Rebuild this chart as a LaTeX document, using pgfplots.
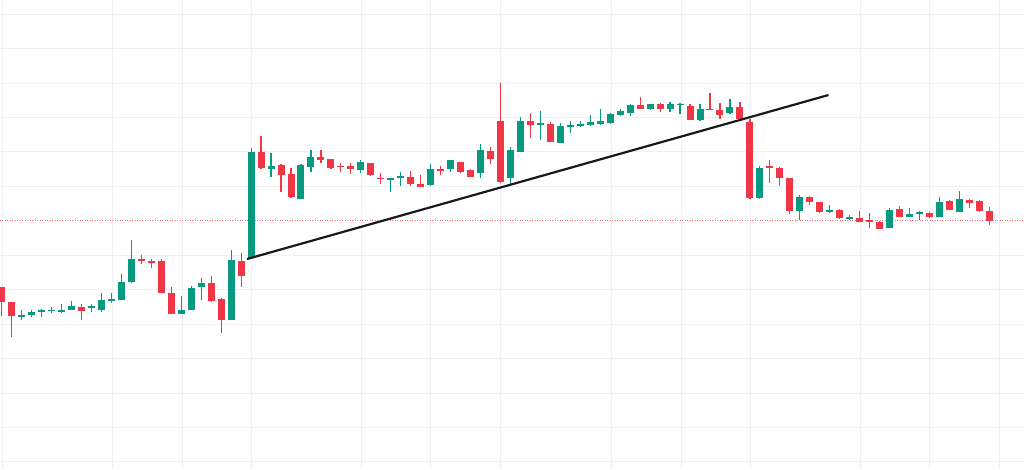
\documentclass[border=0pt]{standalone}
\usepackage{pgfplots}
\usepackage{pgfplotstable}
\pgfplotsset{compat=1.18}
\definecolor{tvgreen}{HTML}{089981}
\definecolor{tvred}{HTML}{F23645}
\definecolor{gridc}{HTML}{EEF0F3}

% columns: i = candle index, top/bot = body edges, hi/lo = wick ends (pixel rows, y grows downwards)
\pgfplotstableread{
i top bot hi lo
2 315 317.3 310 320
3 311.7 315.3 310 317.3
4 310 312 309 316.7
5 309.7 311 307.3 312.7
6 310.3 312.3 304 313
7 306.3 310.3 300.7 310.3
9 305.7 308 304 312
10 299.7 309.7 292.7 312
11 299 301 293.3 303
12 282.3 299.7 273.7 300.3
13 259 282 240.3 282.7
18 310 314.3 295.7 314.3
19 287.7 310.3 286 310.3
20 283.3 287 278.3 300
23 259.7 320.3 250 320.3
25 151.7 258.3 148.3 258.3
27 166 169 152.7 177.3
30 165 199 164 199
31 156.7 166.7 150 171.7
36 161.7 170 160 172.7
39 178.3 180 177.7 192.3
40 176.3 178 172.3 185.7
43 169.3 185 164.3 186
45 160 169.3 160 172.3
48 150 172.5 144.3 178
51 150 178.3 146.7 185
52 120.7 152.3 117.3 152.3
54 123.3 125 111 140
56 126 142.7 122.7 143.3
57 124.5 126.5 121 133
58 123.7 125.7 120.7 126.7
59 121.7 125 115 126
60 121 124.3 109.3 125
61 114 123.3 112.7 124.3
62 110.7 115 109 116
63 105 113.3 104 116
65 104.3 109 104 110
67 104 109 101.7 111.7
68 104 105.3 103.3 114.3
70 109 120 104 120.7
73 106.7 113.3 99.3 114
76 167.7 198.3 166 199.3
80 196.7 210.7 195 220
83 210 211.7 205 213.3
85 216.7 219 215 220
89 210 228.3 208.3 228.3
91 214 216.7 208.3 217.3
92 211.7 214.3 211 220
94 202.3 216.7 196.7 216.7
96 199.3 212.3 191 212.3
}\greentable

\pgfplotstableread{
i top bot hi lo
0 287.3 301.7 287.3 316
1 302 316 302 337.3
8 306.7 310.7 304 320
14 259 261 255.3 264.3
15 260.7 262.7 258.7 268.3
16 260.7 293.3 258.7 293.3
17 293 314.3 286.7 314.3
21 283.3 301 275.7 301.7
22 299 319.7 297.7 333.3
24 260.7 276 253.3 287.3
26 151.7 168.3 136 169.3
28 165 174.7 164 191.7
29 174.3 197.3 168.3 198.3
32 156.7 160 150 163.3
33 159.3 168.3 159.3 169.3
34 165.5 167 162.7 171.7
35 166 169.3 162.7 174.3
37 162.7 175 162.7 175.7
38 177.5 179 173.3 184
41 177.3 184.3 171 186
42 184.3 186.7 175 186.7
44 169.3 170.7 165.7 175
46 161.7 171.7 161.7 172.7
47 170 177.3 169 177.3
49 151 159.3 146.7 164.3
50 120.7 181.7 83.3 182.7
53 120.7 125 113.3 138.3
55 124.3 141.7 121.7 142.3
64 105 109 97.3 109
66 104 109 103.3 112.3
69 105.7 120 104 120
71 109 110.3 93.3 110.3
72 110 115 103.3 119.3
74 107.3 119.3 101.7 120
75 122.3 198.3 119.3 199.3
77 166 168.3 160 182.7
78 168.3 178.3 166.7 186
79 177.7 210.7 177.7 214
81 196.7 202.3 196 205
82 201.7 212.3 201.7 213
84 210 217.7 209.3 219.3
86 217.7 221.7 211 221.7
87 220.3 221.7 213.3 227.7
88 222.3 229 221 229
90 209.3 217.3 206 217.3
93 213.3 217.3 212.3 218.3
95 201 210 200 210
97 200 203.3 199 208.3
98 200.7 211 200 211.7
99 211 220.7 206.7 225
}\redtable

\begin{document}
\begin{tikzpicture}
\begin{axis}[
  width=10.24cm, height=4.69cm, scale only axis,
  xmin=0, xmax=1024, ymin=0, ymax=469, y dir=reverse,
  axis line style={draw=none}, tick style={draw=none},
  xtick={3,112,182,251,361,430,500,611,681,750,860,929,999},
  ytick={14,48.5,83,117.4,151.8,186.3,255.2,289.6,324.1,358.5,393,427.4,461.9},
  xticklabels={}, yticklabels={},
  grid=major, grid style={draw=gridc, line width=0.1mm},
  clip=true,
]
\coordinate (A) at (rel axis cs:0,0);
\coordinate (B) at (rel axis cs:1,1);
% reference price line
\addplot[tvred!70, line width=0.1mm, dash pattern=on 0.1mm off 0.15mm, forget plot] coordinates {(0,220.6) (1024,220.6)};
% wicks
\addplot[draw=none, mark=none, forget plot, error bars/.cd, y dir=plus, y explicit, error mark=none,
  error bar style={draw=tvgreen, solid, line width=0.12mm}]
  table[x expr=1.7+9.976*\thisrow{i}, y=hi, y error plus expr=\thisrow{lo}-\thisrow{hi}] {\greentable};
\addplot[draw=none, mark=none, forget plot, error bars/.cd, y dir=plus, y explicit, error mark=none,
  error bar style={draw=tvred, solid, line width=0.12mm}]
  table[x expr=1.7+9.976*\thisrow{i}, y=hi, y error plus expr=\thisrow{lo}-\thisrow{hi}] {\redtable};
% bodies
\addplot[draw=none, mark=none, forget plot, error bars/.cd, y dir=plus, y explicit, error mark=none,
  error bar style={draw=tvgreen, solid, line width=0.7mm}]
  table[x expr=1.7+9.976*\thisrow{i}, y=top, y error plus expr=\thisrow{bot}-\thisrow{top}] {\greentable};
\addplot[draw=none, mark=none, forget plot, error bars/.cd, y dir=plus, y explicit, error mark=none,
  error bar style={draw=tvred, solid, line width=0.7mm}]
  table[x expr=1.7+9.976*\thisrow{i}, y=top, y error plus expr=\thisrow{bot}-\thisrow{top}] {\redtable};
% trend line
\addplot[color=black!90, line width=0.22mm, forget plot] coordinates {(247,259) (828.5,95)};
\end{axis}
\pgfresetboundingbox
\path (A) rectangle (B);
\end{tikzpicture}
\end{document}
